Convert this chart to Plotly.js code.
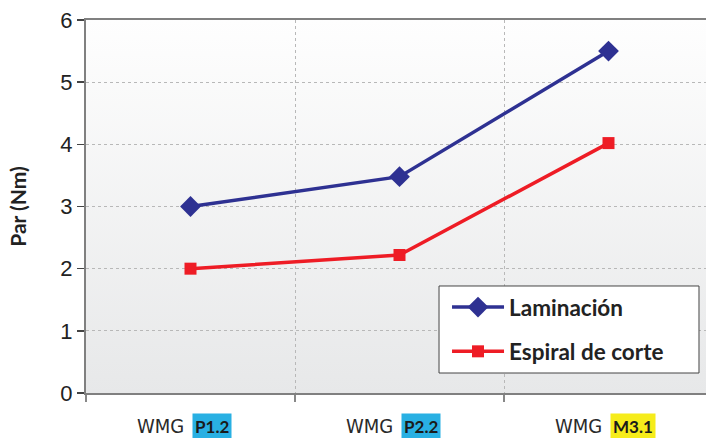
<!DOCTYPE html>
<html>
<head>
<meta charset="utf-8">
<script src="https://cdn.plot.ly/plotly-3.0.1.min.js"></script>
<style>
html,body{margin:0;padding:0;background:#fff;}
#chart{width:706px;height:438px;}
</style>
</head>
<body>
<div id="chart"></div>
<script>
// ---- data ----
const categories = ["WMG P1.2", "WMG P2.2", "WMG M3.1"];
const labelPrefixes = ["WMG", "WMG", "WMG"];
const labelBadges = ["P1.2", "P2.2", "M3.1"];
const badgeColors = ["#29b0e3", "#29b0e3", "#f6ec1b"];
const laminacion = [3.0, 3.48, 5.5];
const espiral = [2.0, 2.22, 4.02];
const seriesNames = ["Laminación", "Espiral de corte"];
const yTicks = [0, 1, 2, 3, 4, 5, 6];

const catIdx = categories.map((c, i) => i);

const gradSvg = '<svg xmlns="http://www.w3.org/2000/svg" width="10" height="100" preserveAspectRatio="none">' +
  '<defs><linearGradient id="g" x1="0" y1="0" x2="0" y2="1">' +
  '<stop offset="0" stop-color="#fefefe"/><stop offset="1" stop-color="#e7e8e9"/></linearGradient></defs>' +
  '<rect width="10" height="100" fill="url(#g)"/></svg>';
const gradUri = 'data:image/svg+xml;base64,' + btoa(gradSvg);

const traces = [
  {
    x: catIdx, y: laminacion, name: seriesNames[0], type: "scatter", mode: "lines+markers",
    line: {color: "#2e3192", width: 3.5},
    marker: {symbol: "diamond", size: 16, color: "#2e3192"},
    legendgroup: "a"
  },
  {
    x: catIdx, y: espiral, name: seriesNames[1], type: "scatter", mode: "lines+markers",
    line: {color: "#ee1c25", width: 3.5},
    marker: {symbol: "square", size: 12, color: "#ee1c25"},
    legendgroup: "b"
  }
];

const annotations = [];
catIdx.forEach(i => {
  annotations.push({
    x: i, xref: "x", y: 0, yref: "paper", yanchor: "middle", xanchor: "right",
    yshift: -33, xshift: -5, showarrow: false, text: labelPrefixes[i],
    font: {family: "Liberation Sans Narrow, DejaVu Sans Condensed, sans-serif", size: 20, color: "#2a2a2a"}
  });
  annotations.push({
    x: i, xref: "x", y: 0, yref: "paper", yanchor: "middle", xanchor: "left",
    yshift: -33, xshift: 1, showarrow: false, text: "<b>" + labelBadges[i] + "</b>",
    bgcolor: badgeColors[i], borderpad: 2,
    font: {family: "Lato, Open Sans, sans-serif", size: 17, color: "#1a1a1a"}
  });
});

const layout = {
  width: 706, height: 438,
  margin: {l: 86, r: 0, t: 20, b: 45},
  paper_bgcolor: "#ffffff",
  plot_bgcolor: "rgba(0,0,0,0)",
  showlegend: true,
  legend: {
    x: 0.5823, y: 0.287, xanchor: "left", yanchor: "top",
    bgcolor: "rgba(0,0,0,0)", borderwidth: 0,
    font: {family: "Lato, Open Sans, sans-serif", size: 22.5, color: "#222", weight: "bold"},
    tracegroupgap: 12, traceorder: "grouped",
    itemwidth: 52
  },
  shapes: [{
    type: "rect", xref: "paper", yref: "paper",
    x0: 0.5694, x1: 0.9887, y0: 0.0536, y1: 0.2869,
    fillcolor: "#ffffff", line: {color: "#444", width: 1}, layer: "above"
  }],
  xaxis: {
    type: "linear",
    range: [-0.5, 2.4665],
    tickmode: "array",
    tickvals: [-0.5, 0.5, 1.5],
    showticklabels: false,
    ticks: "outside", ticklen: 7, tickwidth: 2, tickcolor: "#888",
    showgrid: true, gridcolor: "#b8b8b8", griddash: "dot", gridwidth: 1,
    showline: true, linecolor: "#808080", linewidth: 2, mirror: true,
    zeroline: false
  },
  yaxis: {
    range: [0, 6],
    tickvals: yTicks,
    ticks: "outside", ticklen: 7, tickwidth: 1.5, tickcolor: "#444",
    showgrid: true, gridcolor: "#b8b8b8", griddash: "dot", gridwidth: 1,
    showline: true, linecolor: "#808080", linewidth: 2,
    zeroline: false,
    tickfont: {family: "Liberation Sans, Arial, sans-serif", size: 22, color: "#222"},
    title: {text: "<b>Par (Nm)</b>", standoff: 28,
      font: {family: "Lato, Open Sans, sans-serif", size: 21, color: "#222"}}
  },
  images: [{
    source: gradUri, xref: "paper", yref: "paper", x: 0, y: 1, sizex: 1, sizey: 1,
    sizing: "stretch", layer: "below", xanchor: "left", yanchor: "top"
  }],
  annotations: annotations
};

Plotly.newPlot("chart", traces, layout, {displayModeBar: false, staticPlot: true});
</script>
</body>
</html>
